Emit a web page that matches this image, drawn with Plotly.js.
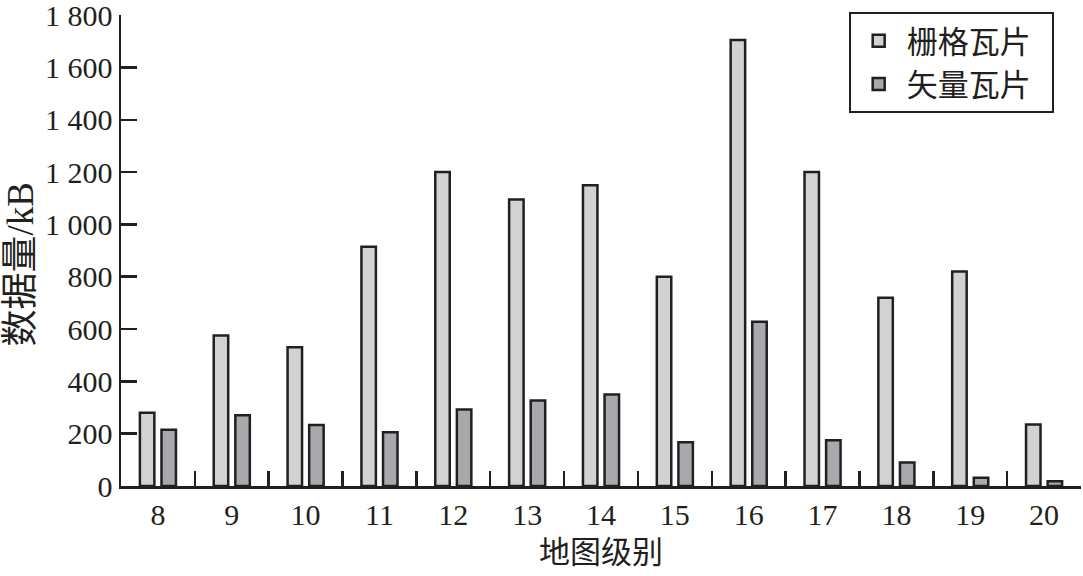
<!DOCTYPE html>
<html>
<head>
<meta charset="utf-8">
<script src="https://cdn.plot.ly/plotly-3.0.1.min.js"></script>
<style>html,body{margin:0;padding:0;background:#fff;}#chart{width:1083px;height:576px;}</style>
</head>
<body>
<div id="chart"></div>
<script>
const levels = ['8','9','10','11','12','13','14','15','16','17','18','19','20'];
const rasterTiles = [280, 575, 530, 915, 1200, 1095, 1150, 800, 1705, 1200, 720, 820, 235];
const vectorTiles = [215, 270, 233, 205, 292, 327, 350, 167, 628, 175, 90, 32, 18];
const seriesNames = ['栅格瓦片', '矢量瓦片'];
const yTickVals = [0, 200, 400, 600, 800, 1000, 1200, 1400, 1600, 1800];
const yTickText = ['0', '200', '400', '600', '800', '1 000', '1 200', '1 400', '1 600', '1 800'];

const ink = '#231f20';
const serif = 'Liberation Serif, Times New Roman, Noto Sans CJK SC, serif';
const cjk = 'Liberation Serif, Noto Sans CJK SC, sans-serif';
const pad = '\u00a0\u00a0';

const traces = [
  {type: 'bar', name: seriesNames[0] + pad, x: levels, y: rasterTiles,
   marker: {color: '#d1d2d4', line: {color: ink, width: 2.5}}},
  {type: 'bar', name: seriesNames[1] + pad, x: levels, y: vectorTiles,
   marker: {color: '#a7a9ac', line: {color: ink, width: 2.5}}}
];

const layout = {
  width: 1083, height: 576,
  margin: {l: 121, r: 2, t: 15, b: 90, pad: 0},
  paper_bgcolor: '#fff', plot_bgcolor: '#fff',
  barmode: 'group', bargap: 0.415, bargroupgap: 0.33,
  showlegend: true,
  legend: {
    x: 0.758, y: 1.006, xanchor: 'left', yanchor: 'top',
    bgcolor: '#fff', bordercolor: ink, borderwidth: 2,
    font: {family: cjk, size: 31, color: ink},
    itemwidth: 46,
    itemclick: false
  },
  xaxis: {
    type: 'category', range: [-0.5, 12.5],
    showline: true, linecolor: ink, linewidth: 2.5,
    ticks: 'inside', tickson: 'boundaries', ticklen: 15, tickwidth: 2.5, tickcolor: ink,
    showgrid: false, zeroline: false,
    tickfont: {family: serif, size: 30, color: ink},
    ticklabelstandoff: 0,
    title: {text: '地图级别', font: {family: cjk, size: 31, color: ink}, standoff: 12}
  },
  yaxis: {
    range: [0, 1800.5], fixedrange: true,
    tickmode: 'array', tickvals: yTickVals, ticktext: yTickText,
    ticklabeloverflow: 'allow',
    showline: true, linecolor: ink, linewidth: 2.5,
    ticks: 'inside', ticklen: 16, tickwidth: 2.5, tickcolor: ink,
    showgrid: false, zeroline: false,
    tickfont: {family: serif, size: 30, color: ink},
    ticklabelstandoff: 0,
    title: {text: '数据量/kB\u00a0\u00a0\u00a0\u200b', font: {family: cjk, size: 37, color: ink}, standoff: 4}
  }
};

Plotly.newPlot('chart', traces, layout, {displayModeBar: false, staticPlot: true});
</script>
</body>
</html>
